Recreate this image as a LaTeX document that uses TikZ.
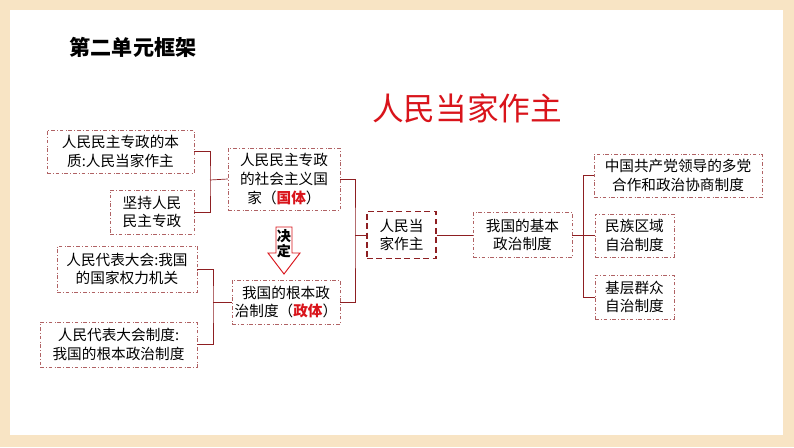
\documentclass[tikz,border=0pt]{standalone}
\usepackage{fontspec}
\setmainfont{Noto Sans CJK SC}
\usetikzlibrary{positioning, arrows.meta}
\definecolor{frame}{HTML}{F8E4C4}
\definecolor{darkred}{HTML}{8E1F22}
\definecolor{hot}{HTML}{D9141B}
\tikzset{
	box/.style={draw=darkred!70, dash dot, thin, align=center, inner sep=2pt, font=\fontsize{12.5}{16}\selectfont},
	link/.style={draw=darkred, semithick}
}
\begin{document}
\begin{tikzpicture}[x=0.03cm, y=-0.03cm]
\fill[frame] (0,0) rectangle (794,447);
\fill[white] (10,10) rectangle (783,435);
\node (head) [font=\fontsize{18}{20}\selectfont\bfseries] at (133,47) {第二单元框架};
\node (title) [text=hot, font=\fontsize{27}{30}\selectfont] at (467,108) {人民当家作主};
\node (ess) [box, minimum width=147*0.03cm, minimum height=43*0.03cm] at (120.5,151.5) {人民民主专政的本\\质:人民当家作主};
\node (keep) [box, minimum width=84*0.03cm, minimum height=44*0.03cm] at (152,212) {坚持人民\\民主专政};
\node (guoti) [box, minimum width=112*0.03cm, minimum height=62*0.03cm] at (284,179) {人民民主专政\\的社会主义国\\家（\textcolor{hot}{\bfseries 国体}）};
\node (npc) [box, minimum width=140*0.03cm, minimum height=46*0.03cm] at (127,269) {人民代表大会:我国\\的国家权力机关};
\node (npcs) [box, minimum width=157*0.03cm, minimum height=45*0.03cm] at (118.5,344.5) {人民代表大会制度:\\我国的根本政治制度};
\node (zhengti) [box, minimum width=108*0.03cm, minimum height=44*0.03cm] at (286,302) {我国的根本政\\治制度（\textcolor{hot}{\bfseries 政体}）};
\node (core) [draw=darkred, line width=1.6pt, dash pattern=on 5pt off 3pt, align=center, minimum width=69*0.03cm, minimum height=47*0.03cm, font=\fontsize{12.5}{16}\selectfont] at (401.5,235) {人民当\\家作主};
\node (basic) [box, minimum width=99*0.03cm, minimum height=45*0.03cm] at (522.5,235) {我国的基本\\政治制度};
\node (cpc) [box, minimum width=168*0.03cm, minimum height=43*0.03cm] at (678,175.5) {中国共产党领导的多党\\合作和政治协商制度};
\node (ethnic) [box, minimum width=79*0.03cm, minimum height=43*0.03cm] at (634.5,235.5) {民族区域\\自治制度};
\node (grass) [box, minimum width=79*0.03cm, minimum height=44*0.03cm] at (634.5,297) {基层群众\\自治制度};
% hollow arrow
\draw[hot, thick, fill=white] (276,227) -- (292,227) -- (292,253) -- (300,253) -- (284,274) -- (268,253) -- (276,253) -- cycle;
\node (decide) [font=\fontsize{12}{13}\selectfont\bfseries, align=center, inner sep=0pt] at (284,244) {决\\定};
% brackets
\draw[link] (ess.east) -| (210,180) |- (keep.east);
\draw[link] (210,180) -- (guoti.west);
\draw[link] (npc.east) -| (213,302) |- (npcs.east);
\draw[link] (213,302) -- (zhengti.west);
\draw[link] (guoti.east) -| (355,235) |- (zhengti.east);
\draw[link] (355,235) -- (core.west);
\draw[link] (core.east) -- (basic.west);
\draw[link] (basic.east) -- (583,235);
\draw[link] (cpc.west) -| (583,235) |- (grass.west);
\draw[link] (583,235.5) -- (ethnic.west);
\end{tikzpicture}
\end{document}
